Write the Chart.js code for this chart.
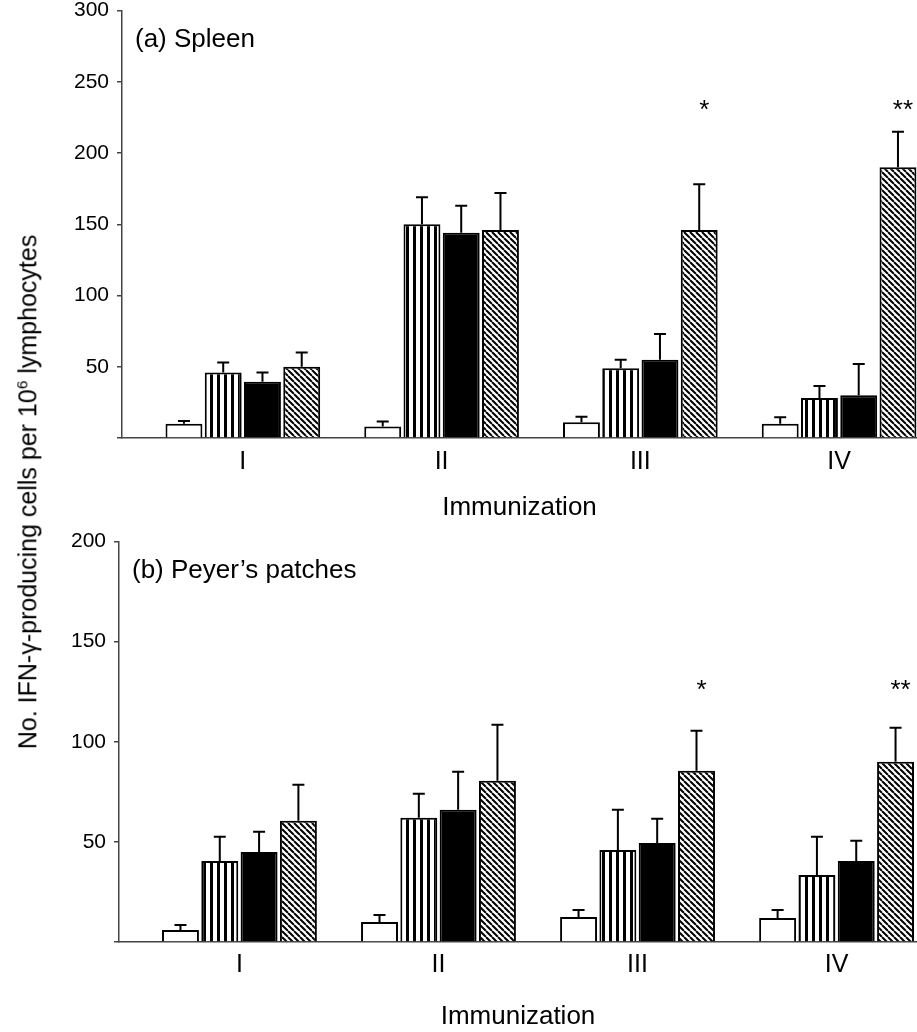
<!DOCTYPE html>
<html lang="en">
<head>
<meta charset="UTF-8">
<title>IFN-gamma producing cells</title>
<style>
  html, body { margin: 0; padding: 0; background: #fff; overflow: hidden; }
  #wrap { position: relative; width: 917px; height: 1032px; }
  .panel { position: absolute; left: 0; width: 917px; }
  #ytitle {
    position: absolute; left: 28px; top: 492px;
    transform: translate(-50%, -50%) rotate(-90deg);
    white-space: nowrap; color: #000;
    font: 25px "Liberation Sans", Arial, sans-serif;
  }
  #ytitle sup { font-size: 0.62em; }
</style>
</head>
<body>
<script src="https://cdn.jsdelivr.net/npm/chart.js@4.4.1/dist/chart.umd.min.js"></script>
<div id="wrap">
  <div class="panel" style="top:-8px;height:539px"><canvas id="spleen"></canvas></div>
  <div class="panel" style="top:523px;height:509px"><canvas id="peyer"></canvas></div>
  <div id="ytitle">No. IFN-γ-producing cells per 10<sup>6</sup> lymphocytes</div>
</div>
<script>
var categories = ['I', 'II', 'III', 'IV'];
var stars = ['', '', '*', '**'];

// (a) spleen
var spleenOpen = [10, 8, 11, 10];
var spleenVertical = [46, 150, 49, 28];
var spleenSolid = [39.5, 144, 55, 30];
var spleenHatched = [50, 146, 146, 190];
var spleenOpenErr = [2, 3.5, 4, 4.5];
var spleenVerticalErr = [7, 19, 6, 8.5];
var spleenSolidErr = [6.5, 19, 18, 22];
var spleenHatchedErr = [10, 26, 32, 25];
var spleenTicks = [0, 50, 100, 150, 200, 250, 300];
var spleenStarLevel = 233;

// (b) Peyer's patches
var peyerOpen = [6, 10, 12.5, 12];
var peyerVertical = [40.5, 62, 46, 33.5];
var peyerSolid = [45, 66, 49.5, 40.5];
var peyerHatched = [60.5, 80.5, 85.5, 90];
var peyerOpenErr = [2.5, 3.5, 3.5, 4];
var peyerVerticalErr = [12, 12, 20, 19];
var peyerSolidErr = [10, 19, 12, 10];
var peyerHatchedErr = [18, 28, 20, 17];
var peyerTicks = [0, 50, 100, 150, 200];
var peyerStarLevel = 128;

var FONT = '"Liberation Sans", Arial, sans-serif';

function stripePattern() {
    var c = document.createElement('canvas');
    c.width = 7; c.height = 7;
    var g = c.getContext('2d');
    g.fillStyle = '#fff'; g.fillRect(0, 0, 7, 7);
    g.fillStyle = '#000'; g.fillRect(0, 0, 3, 7);
    return g.createPattern(c, 'repeat');
}

function hatchPattern() {
    var c = document.createElement('canvas');
    c.width = 6; c.height = 6;
    var g = c.getContext('2d');
    g.fillStyle = '#fff'; g.fillRect(0, 0, 6, 6);
    g.strokeStyle = '#000'; g.lineWidth = 2;
    g.beginPath();
    [-6, 0, 6].forEach(function (k) { g.moveTo(k, 0); g.lineTo(k + 6, 6); });
    g.stroke();
    return g.createPattern(c, 'repeat');
}

// error bars (upper only), stars and the panel label
var extras = {
    id: 'extras',
    afterDatasetsDraw: function (chart, args, opts) {
        var ctx = chart.ctx, y = chart.scales.y, area = chart.chartArea;
        ctx.save();
        ctx.strokeStyle = '#000';
        ctx.lineWidth = 2;
        chart.data.datasets.forEach(function (ds, d) {
            chart.getDatasetMeta(d).data.forEach(function (bar, i) {
                var top = y.getPixelForValue(ds.data[i].y + ds.errors[i]);
                ctx.beginPath();
                ctx.moveTo(bar.x, bar.y);
                ctx.lineTo(bar.x, top);
                ctx.moveTo(bar.x - 6, top);
                ctx.lineTo(bar.x + 6, top);
                ctx.stroke();
            });
        });
        ctx.fillStyle = '#000';
        ctx.textAlign = 'center';
        ctx.textBaseline = 'middle';
        ctx.font = '26px ' + FONT;
        var last = chart.getDatasetMeta(chart.data.datasets.length - 1).data;
        stars.forEach(function (s, i) {
            if (s) ctx.fillText(s, last[i].x + 5, y.getPixelForValue(opts.starLevel) + 5);
        });
        ctx.textAlign = 'left';
        ctx.font = '26px ' + FONT;
        ctx.fillText(opts.label, area.left + 13, area.top + 29);
        ctx.restore();
    }
};

function points(vals) {
    return categories.map(function (c, i) { return { x: i + 1, y: vals[i] }; });
}

function makePanel(id, vals, errs, ticks, opt) {
    var fills = ['#fff', stripePattern(), '#000', hatchPattern()];
    var names = ['open', 'vertical stripes', 'solid', 'hatched'];
    var datasets = vals.map(function (v, k) {
        return {
            label: names[k],
            data: points(v),
            errors: errs[k],
            backgroundColor: fills[k],
            borderColor: '#000',
            borderWidth: 2,
            categoryPercentage: 0.79,
            barPercentage: 0.94
        };
    });
    return new Chart(document.getElementById(id), {
        type: 'bar',
        data: { datasets: datasets },
        options: {
            animation: false,
            responsive: true,
            maintainAspectRatio: false,
            layout: { padding: 0 },
            scales: {
                x: {
                    type: 'linear',
                    min: opt.xMin,
                    max: opt.xMax,
                    offset: false,
                    grid: { display: false, drawTicks: false },
                    border: { display: true, color: '#444', width: 1.5 },
                    afterBuildTicks: function (s) {
                        s.ticks = categories.map(function (c, i) { return { value: i + 1 }; });
                    },
                    ticks: {
                        autoSkip: false,
                        maxRotation: 0,
                        padding: opt.xPad,
                        color: '#000',
                        font: { family: FONT, size: 25 },
                        callback: function (v) { return categories[v - 1] || ''; }
                    },
                    title: {
                        display: true,
                        text: 'Immunization',
                        color: '#000',
                        font: { family: FONT, size: 26 },
                        padding: { top: 0, bottom: opt.titlePad }
                    },
                    afterFit: function (s) { s.height = opt.xHeight; }
                },
                y: {
                    min: 0,
                    max: ticks[ticks.length - 1],
                    afterBuildTicks: function (s) {
                        s.ticks = ticks.map(function (v) { return { value: v }; });
                    },
                    grid: { drawOnChartArea: false, drawTicks: true, tickLength: 5, color: '#444', lineWidth: 1.5 },
                    border: { display: true, color: '#444', width: 1.5 },
                    ticks: {
                        padding: 8,
                        color: '#000',
                        font: { family: FONT, size: 21, lineHeight: 1 },
                        callback: function (v) { return v === 0 ? '' : v; }
                    },
                    afterFit: function (s) { s.width = opt.yWidth; }
                }
            },
            plugins: {
                legend: { display: false },
                tooltip: { enabled: false },
                extras: { label: opt.label, starLevel: opt.starLevel }
            }
        },
        plugins: [extras]
    });
}

window.onload = function () {
    makePanel('spleen',
        [spleenOpen, spleenVertical, spleenSolid, spleenHatched],
        [spleenOpenErr, spleenVerticalErr, spleenSolidErr, spleenHatchedErr],
        spleenTicks,
        { xMin: 0.392, xMax: 4.392, yWidth: 122, xHeight: 93, xPad: 9, titlePad: 8,
          label: '(a) Spleen', starLevel: spleenStarLevel });
    makePanel('peyer',
        [peyerOpen, peyerVertical, peyerSolid, peyerHatched],
        [peyerOpenErr, peyerVerticalErr, peyerSolidErr, peyerHatchedErr],
        peyerTicks,
        { xMin: 0.395, xMax: 4.404, yWidth: 119, xHeight: 90, xPad: 8, titlePad: 0,
          label: '(b) Peyer’s patches', starLevel: peyerStarLevel });
};
</script>
</body>
</html>
